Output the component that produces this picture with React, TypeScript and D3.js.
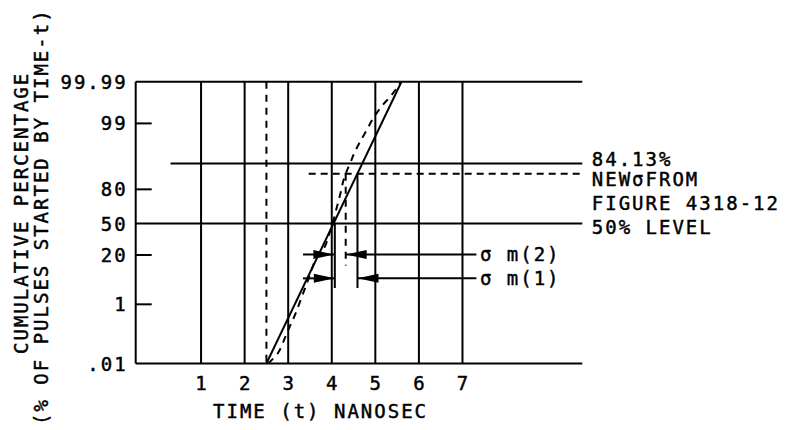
import React from 'react';
import * as d3 from 'd3';

// ---- data ----
const TIME_TICKS = [1, 2, 3, 4, 5, 6, 7];
const PCT_TICK_VALUES = [0.01, 1, 20, 50, 80, 99, 99.99];
const PCT_TICK_LABELS = ['.01', '1', '20', '50', '80', '99', '99.99'];
// breakpoints of the (hand-drawn) probability axis and their relative heights
const PCT_BREAKS = [0.01, 1, 20, 50, 80, 84.13, 99, 99.99];
const PCT_BREAK_FRAC = [0, 0.21, 0.385, 0.4968, 0.618, 0.7097, 0.852, 1];

const SOLID_T = [2.5, 5.6];
const SOLID_P = [0.01, 99.99];
const DASHED_T = [2.54, 2.77, 2.97, 3.17, 3.43, 3.68, 3.84, 3.92, 4.02, 4.1, 4.19, 4.26, 4.32, 4.42, 4.53, 4.65, 4.8, 4.95, 5.14, 5.37, 5.58];
const DASHED_P = [0.01, 0.19, 0.52, 0.85, 9.2, 20.1, 27.9, 37.4, 50.2, 61.8, 75.0, 81.2, 82.5, 84.2, 88.5, 92.2, 96.5, 99.12, 99.4, 99.67, 99.97];

const START_T = 2.5;
const REF_LEVEL = 84.13;
const REF_START_T = 0.3;
const NEW_SIGMA_LEVEL = 82.5;
const NEW_START_T = 3.47;
const MEDIAN_LEVEL = 50;

const DROP_T = [4.07, 4.32, 4.59];
const DROP_TOP = [50, 82.5, 82.5];
const DROP_BOTTOM = [7.3, 16, 7.3];
const DROP_DASHED = [false, true, false];

const ROW_LABELS = ['σ m(2)', 'σ m(1)'];
const ROW_LEVEL = [20.5, 11];
const ROW_LEFT_TAIL = [3.34, 3.34];
const ROW_LEFT_TIP = [4.06, 4.07];
const ROW_RIGHT_TIP = [4.32, 4.59];
const ROW_RIGHT_TAIL = [7.32, 7.32];

const RIGHT_LABELS = ['84.13%', 'NEWσFROM', 'FIGURE 4318-12', '50% LEVEL'];
const X_TITLE = 'TIME (t) NANOSEC';
const Y_TITLE_1 = 'CUMULATIVE PERCENTAGE';
const Y_TITLE_2 = '(% OF PULSES STARTED BY TIME-t)';

// ---- layout ----
const W = 787;
const H = 430;
const L = 135.7;
const R = 582.3;
const T = 81.7;
const B = 363.5;
const FONT = { fontFamily: '"DejaVu Sans Mono", monospace', fontSize: 19, letterSpacing: 2 };
const SW = 2;

export default function App() {
  const x = d3.scaleLinear().domain([-0.5, 9.75]).range([L, R]);
  const y = d3.scaleLinear().domain(PCT_BREAKS).range(PCT_BREAK_FRAC.map((f) => B - f * (B - T)));

  const line = d3.line<[number, number]>().x((d) => x(d[0])).y((d) => y(d[1]));
  const curve = d3
    .line<[number, number]>()
    .x((d) => x(d[0]))
    .y((d) => y(d[1]))
    .curve(d3.curveCatmullRom.alpha(0.5));

  const solidPts: [number, number][] = SOLID_T.map((t, i) => [t, SOLID_P[i]]);
  const dashedPts: [number, number][] = DASHED_T.map((t, i) => [t, DASHED_P[i]]);

  const head = (tipX: number, yy: number, dir: number) => {
    const len = 21;
    const hw = 4.5;
    return `M${tipX},${yy} L${tipX - dir * len},${yy - hw} L${tipX - dir * len},${yy + hw} Z`;
  };

  return (
    <svg width={W} height={H} style={{ position: 'absolute', left: 0, top: 0, background: '#fff' }}>
      <rect x={0} y={0} width={W} height={H} fill="#fff" />
      <g stroke="#000" strokeWidth={SW} fill="none">
        {/* frame */}
        <line x1={L} x2={L} y1={T} y2={B} />
        <line x1={L} x2={R} y1={T} y2={T} />
        <line x1={L} x2={R} y1={B} y2={B} />
        {/* vertical grid */}
        {TIME_TICKS.map((t) => (
          <line key={t} x1={x(t)} x2={x(t)} y1={T} y2={B} />
        ))}
        <line x1={x(START_T)} x2={x(START_T)} y1={T} y2={B} strokeDasharray="7,6" />
        {/* left ticks */}
        {PCT_TICK_VALUES.filter((v) => v !== 0.01 && v !== 99.99 && v !== MEDIAN_LEVEL).map((v) => (
          <line key={v} x1={L} x2={L + 16} y1={y(v)} y2={y(v)} />
        ))}
        {/* reference levels */}
        <line x1={L} x2={R} y1={y(MEDIAN_LEVEL)} y2={y(MEDIAN_LEVEL)} />
        <line x1={x(REF_START_T)} x2={R} y1={y(REF_LEVEL)} y2={y(REF_LEVEL)} />
        <line x1={x(NEW_START_T)} x2={R} y1={y(NEW_SIGMA_LEVEL)} y2={y(NEW_SIGMA_LEVEL)} strokeDasharray="7,5" />
        {/* distributions */}
        <path d={line(solidPts) || ''} />
        <path d={curve(dashedPts) || ''} strokeDasharray="7,6" />
        {/* drop lines */}
        {DROP_T.map((t, i) => (
          <line
            key={i}
            x1={x(t)}
            x2={x(t)}
            y1={y(DROP_TOP[i])}
            y2={y(DROP_BOTTOM[i])}
            strokeDasharray={DROP_DASHED[i] ? '7,6' : undefined}
          />
        ))}
        {/* sigma rows */}
        {ROW_LABELS.map((_, i) => (
          <g key={i}>
            <line x1={x(ROW_LEFT_TAIL[i])} x2={x(ROW_LEFT_TIP[i])} y1={y(ROW_LEVEL[i])} y2={y(ROW_LEVEL[i])} />
            <line x1={x(ROW_RIGHT_TIP[i])} x2={x(ROW_RIGHT_TAIL[i])} y1={y(ROW_LEVEL[i])} y2={y(ROW_LEVEL[i])} />
          </g>
        ))}
      </g>
      <g fill="#000" stroke="none">
        {ROW_LABELS.map((_, i) => (
          <g key={i}>
            <path d={head(x(ROW_LEFT_TIP[i]), y(ROW_LEVEL[i]), 1)} />
            <path d={head(x(ROW_RIGHT_TIP[i]), y(ROW_LEVEL[i]), -1)} />
          </g>
        ))}
      </g>
      <g fill="#000" stroke="#000" strokeWidth={0.45} style={FONT}>
        {PCT_TICK_VALUES.map((v, i) => (
          <text key={v} x={L - 8} y={y(v) + 7} textAnchor="end">
            {PCT_TICK_LABELS[i]}
          </text>
        ))}
        {TIME_TICKS.map((t) => (
          <text key={t} x={x(t) + 1} y={B + 26.5} textAnchor="middle">
            {String(t)}
          </text>
        ))}
        <text x={213} y={B + 54} textAnchor="start">
          {X_TITLE}
        </text>
        {ROW_LABELS.map((lab, i) => (
          <text key={lab} x={x(ROW_RIGHT_TAIL[i]) + 3.5} y={y(ROW_LEVEL[i]) + 6.5}>
            {lab}
          </text>
        ))}
        <text x={R + 9.5} y={y(REF_LEVEL) + 2.5}>{RIGHT_LABELS[0]}</text>
        <text x={R + 9.5} y={y(NEW_SIGMA_LEVEL) + 12.7}>{RIGHT_LABELS[1]}</text>
        <text x={R + 9.5} y={y(NEW_SIGMA_LEVEL) + 36.7}>{RIGHT_LABELS[2]}</text>
        <text x={R + 9.5} y={y(MEDIAN_LEVEL) + 10.5}>{RIGHT_LABELS[3]}</text>
        <text transform="translate(28,354) rotate(-90)">{Y_TITLE_1}</text>
        <text transform="translate(48,425) rotate(-90)">{Y_TITLE_2}</text>
      </g>
    </svg>
  );
}
